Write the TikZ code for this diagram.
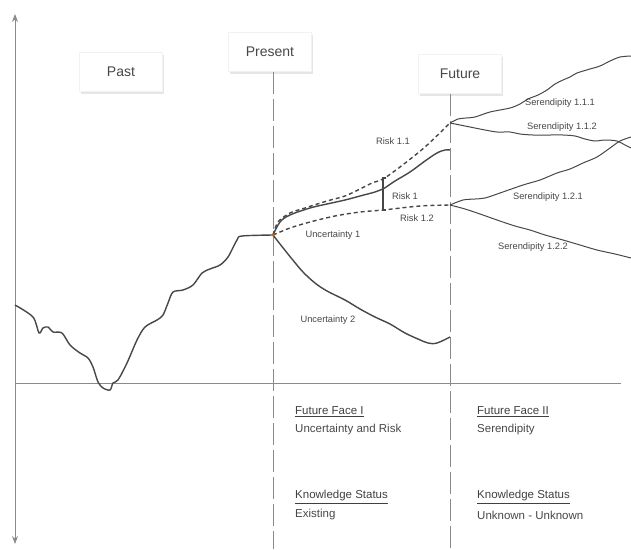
\documentclass[tikz,border=0pt]{standalone}
\usepackage{fontspec}
\setmainfont{Liberation Sans}
\usepackage{tikz}
\usetikzlibrary{arrows,arrows.meta,shadows,positioning}

\definecolor{ink}{HTML}{474747}
\definecolor{rule}{HTML}{8A8A8A}

\begin{document}
\begin{tikzpicture}[x=1pt,y=-1pt,>={Stealth[length=8pt,width=6pt]},
    stage/.style={draw=black!5,fill=white,minimum width=83pt,minimum height=39pt,
      text=ink,font=\fontsize{14}{16}\selectfont,
      drop shadow={opacity=0.2,shadow xshift=1.5pt,shadow yshift=-2.5pt}},
    timeline/.style={draw=rule,line width=0.9pt,dash pattern=on 22pt off 5pt},
    axis/.style={draw=rule,line width=1pt},
    path/.style={draw=ink,line width=1.4pt,line join=round},
    risk/.style={draw=ink,line width=1.4pt,dash pattern=on 4pt off 3pt},
    branch/.style={draw=ink,line width=1pt},
    tag/.style={text=ink,font=\fontsize{9.3}{10}\selectfont,inner sep=1pt},
    facehead/.style={text=ink!90!black,anchor=west,inner sep=0pt,font=\fontsize{11.5}{13}\selectfont},
    facetext/.style={text=ink,anchor=west,inner sep=0pt,font=\fontsize{11.5}{13}\selectfont}]
  \useasboundingbox (0,0) rectangle (631,549);

  % stages
  \node[stage] (past) at (121,72) {Past};
  \node[stage] (present) at (270,52) {Present};
  \node[stage] (future) at (460,74) {Future};

  \coordinate (now) at (273,235);
  \coordinate (f11) at (450,123);
  \coordinate (f12) at (450,205);
  \coordinate (u1) at (450,150);

  % axes
  \draw[axis,<->] (15,14) -- (15,544);
  \draw[axis] (15,383) -- (621,383);
  \draw[timeline] (now |- present.south) -- (now |- 0,549);
  \draw[timeline] (f11 |- future.south) -- (f11 |- 0,549);

  % past
  \draw[path] plot[smooth,tension=0.5] coordinates {(15,305) (33,317) (39,333) (43,328) (48,327)
    (53,332) (62,333) (70,345) (80,353) (88,358) (93,367) (98,382) (103,388) (110,390) (113,383)
    (118,380) (127,363) (137,340) (145,327) (157,320) (163,315) (168,303) (173,292) (183,290)
    (193,285) (202,273) (210,269) (220,265) (228,257) (237,240) (242,236) (now)};

  % uncertainty and risk
  \draw[path] plot[smooth,tension=0.6] coordinates {(now) (280,222) (290,215) (310,208) (327,204)
    (345,200) (360,196) (375,192) (383,189) (395,181) (410,172) (425,161) (437,153) (445,150) (u1)};
  \draw[risk] plot[smooth,tension=0.5] coordinates {(now) (278,222) (290,213) (305,208) (327,201)
    (345,196) (360,189) (372,183) (383,179) (400,167) (425,147) (f11)};
  \draw[risk] plot[smooth,tension=0.5] coordinates {(now) (290,228) (310,222) (335,216) (360,212)
    (383,210) (420,206) (f12)};
  \draw[path] plot[smooth,tension=0.6] coordinates {(now) (280,244) (292,259) (303,272) (315,283)
    (327,291) (345,300) (360,309) (375,317) (390,324) (405,333) (418,339) (428,343) (437,343) (450,337)};
  \draw[ink,line width=1.3pt] (386,178) -- (383,178) -- (383,210) -- (386,210);
  \fill[orange!80!black] (now) circle (1.6pt);

  % serendipity
  \draw[branch] plot[smooth,tension=0.5] coordinates {(f11) (458,119) (466,118) (475,117) (490,112)
    (510,108) (520,104) (528,99) (538,95) (547,90) (555,84) (563,80) (570,77) (577,73) (590,69)
    (600,66) (610,61) (620,57) (631,56)};
  \draw[branch] plot[smooth,tension=0.5] coordinates {(f11) (460,125) (470,127) (485,130) (497,132)
    (510,132) (520,134) (533,135) (550,135) (563,135) (575,136) (585,139) (595,141) (605,140)
    (617,141) (625,145) (631,148)};
  \draw[branch] plot[smooth,tension=0.5] coordinates {(f12) (463,200) (475,199) (485,198) (500,193)
    (523,185) (540,180) (557,173) (570,169) (583,163) (597,157) (610,148) (620,141) (631,137)};
  \draw[branch] plot[smooth,tension=0.5] coordinates {(f12) (465,209) (480,214) (497,220) (515,226)
    (530,230) (545,235) (563,240) (580,245) (597,250) (615,254) (631,258)};

  % labels
  \node[tag] (r11) at (393,141) {Risk 1.1};
  \node[tag] (r1) at (405,196) {Risk 1};
  \node[tag] (r12) at (417,218) {Risk 1.2};
  \node[tag] (un1) at (333,235) {Uncertainty 1};
  \node[tag] (un2) at (328,320) {Uncertainty 2};
  \node[tag] (s111) at (560,103) {Serendipity 1.1.1};
  \node[tag] (s112) at (562,127) {Serendipity 1.1.2};
  \node[tag] (s121) at (548,197) {Serendipity 1.2.1};
  \node[tag] (s122) at (533,247) {Serendipity 1.2.2};

  % faces
  \node[facehead] (face1) at (295,412) {\underline{Future Face I}};
  \node[facetext] (face1t) at (295,430) {Uncertainty and Risk};
  \node[facehead] (know1) at (295,497) {\underline{Knowledge Status}};
  \node[facetext] (know1t) at (295,515) {Existing};
  \node[facehead] (face2) at (477,412) {\underline{Future Face II}};
  \node[facetext] (face2t) at (477,430) {Serendipity};
  \node[facehead] (know2) at (477,497) {\underline{Knowledge Status}};
  \node[facetext] (know2t) at (477,515) {Unknown - Unknown};
\end{tikzpicture}
\end{document}
